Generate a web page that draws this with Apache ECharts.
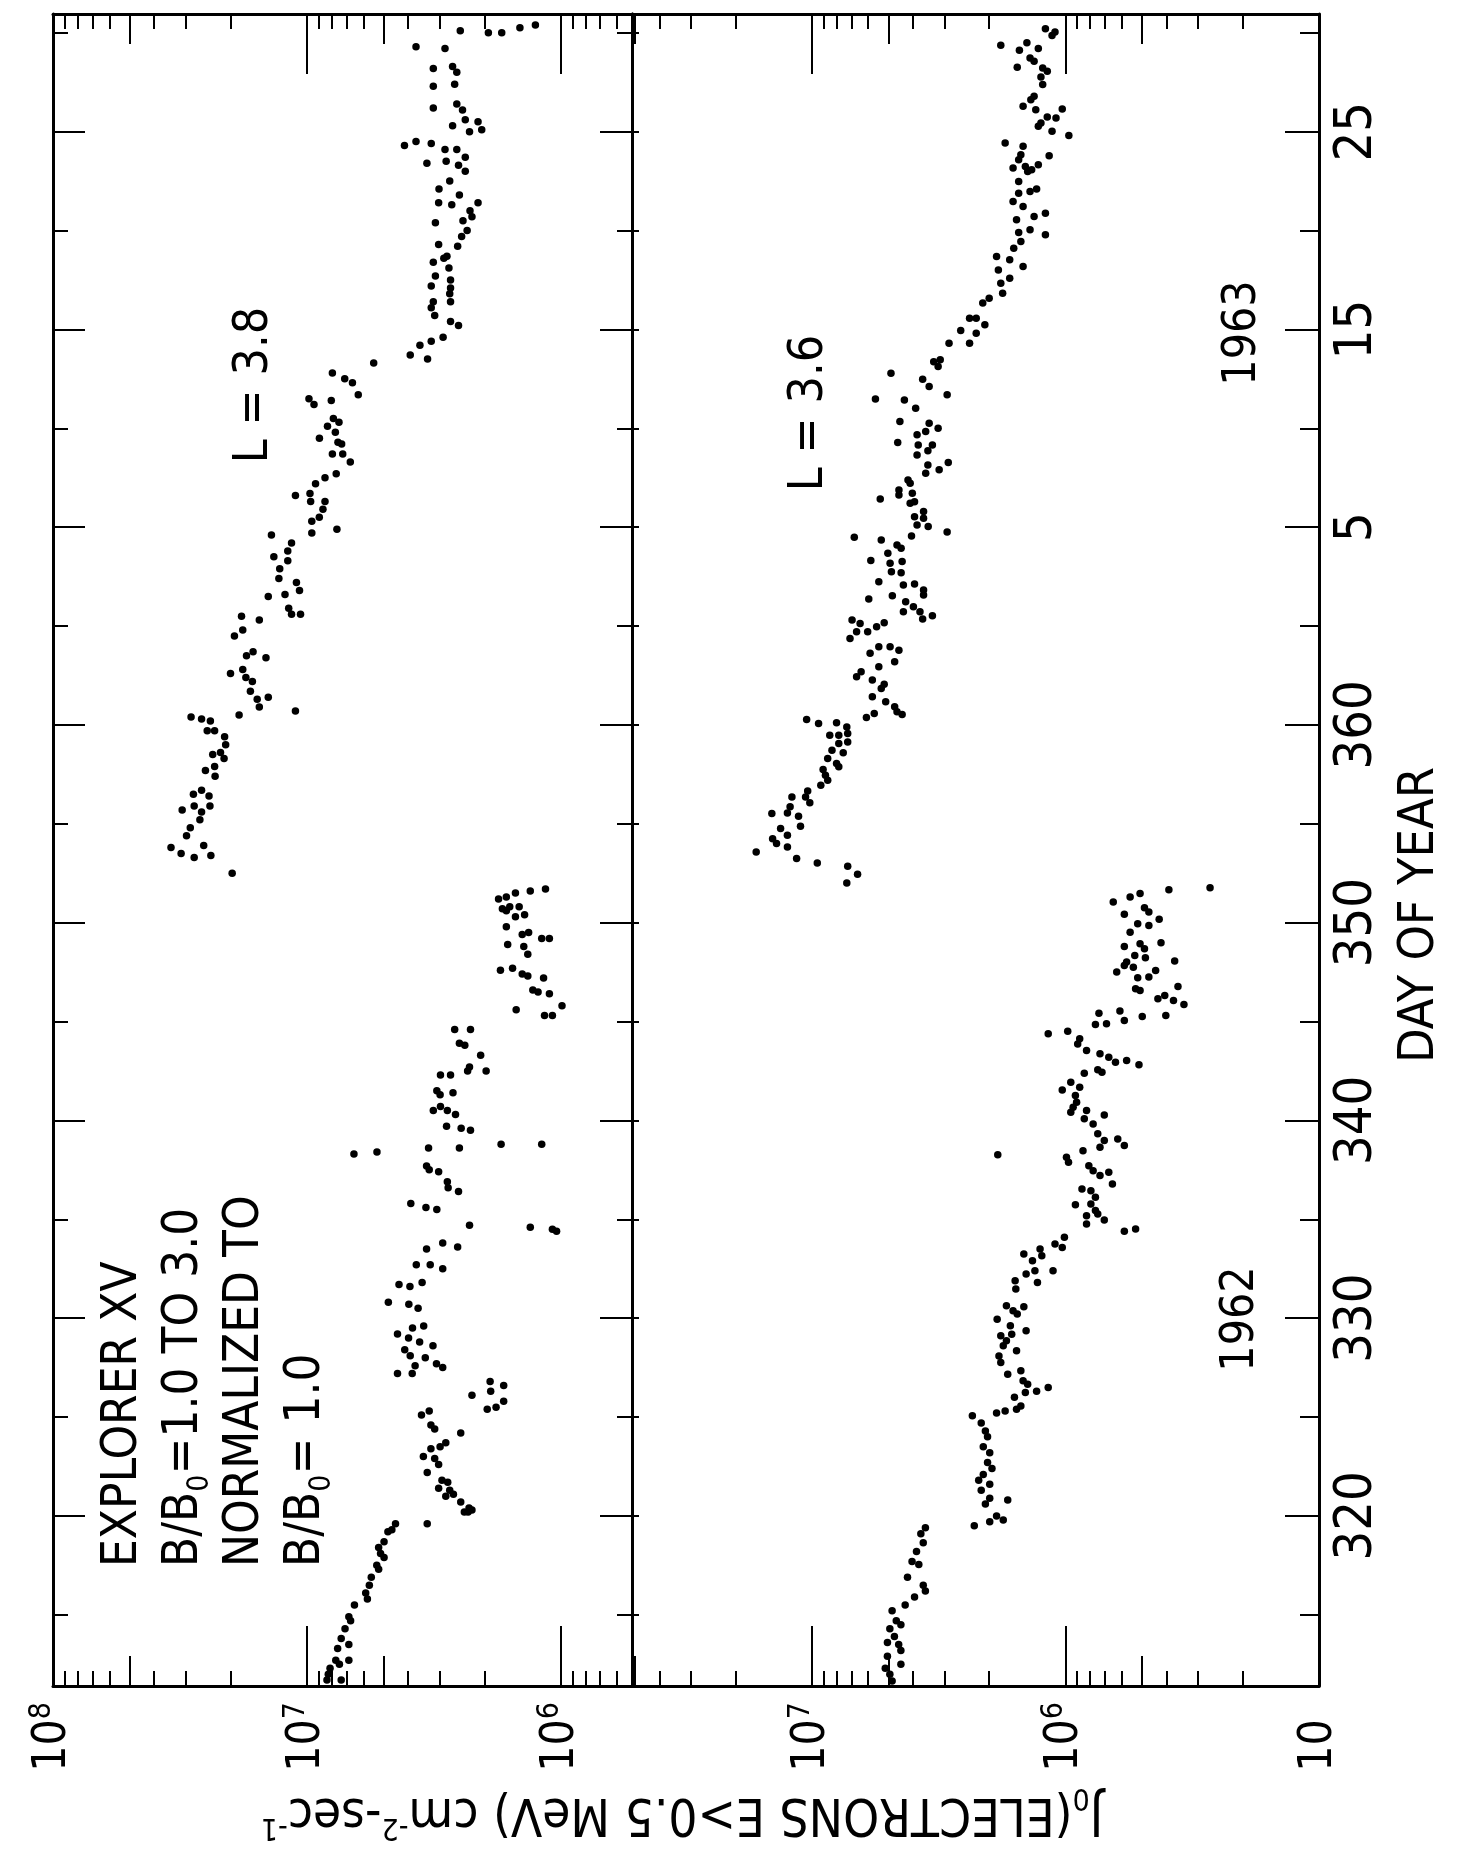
<!DOCTYPE html>
<html>
<head>
<meta charset="utf-8">
<script src="https://cdn.jsdelivr.net/npm/echarts@6/dist/echarts.min.js"></script>
<style>
html,body{margin:0;padding:0;background:#fff;}
#chart{width:1458px;height:1853px;}
</style>
</head>
<body>
<div id="chart"></div>
<script>
// points are [day of year, J0 in units of 10^6 cm^-2 sec^-1]; days past 365 are 1963
// L = 3.8 (left panel)
var l38a = [[311.7,8.34],[311.7,7.33],[312.0,8.24],[312.3,8.11],[312.5,7.45],[312.7,7.70],[312.7,6.84],[313.3,7.57],[313.5,6.84],[313.8,7.33],[314.3,7.08],[314.7,6.73],[314.9,6.84],[315.5,6.50],[315.8,5.78],[316.1,5.87],[316.5,5.68],[316.9,5.58],[317.3,5.22],[317.5,5.31],[317.9,4.97],[318.1,5.13],[318.4,5.22],[318.7,4.97],[319.2,4.80],[319.3,4.63],[319.6,4.48]];
var l38b = [[319.6,3.36],[320.2,2.32],[320.2,2.40],[320.3,2.24],[320.4,2.30],[320.7,2.48],[321.0,2.84],[321.1,2.65],[321.3,2.74],[321.4,3.03],[321.7,2.79],[321.8,2.94],[322.2,3.36],[322.6,3.03],[322.9,3.14],[323.0,3.48],[323.4,3.25],[323.5,2.99],[323.7,2.84],[324.2,2.48],[324.4,3.14],[324.6,3.25],[325.1,3.54],[325.3,3.30]];
var l38c = [[325.4,1.95],[325.5,1.80],[325.8,1.68],[326.1,2.24],[326.3,1.89],[326.6,1.68],[326.8,1.90]];
var l38d = [[327.2,4.40],[327.2,3.85],[327.5,2.92],[327.6,3.75],[327.7,3.09],[328.0,3.42],[328.1,3.92],[328.4,4.12],[328.6,3.19],[328.8,3.60],[329.0,3.98],[329.2,4.40],[329.5,3.84],[329.6,3.47],[330.5,3.65],[330.7,3.97],[330.8,4.78],[331.6,3.93],[331.7,4.34],[331.8,3.52],[332.5,2.92],[332.7,3.27],[332.7,3.71],[333.5,3.38],[333.6,2.55],[333.8,2.92],[334.7,2.29],[335.5,3.08],[335.6,3.40],[335.8,3.90],[336.4,2.53],[336.6,2.78],[336.9,2.80],[337.4,3.03],[337.5,3.30],[337.7,3.38],[338.6,3.32],[338.6,2.51],[339.5,2.27],[339.6,2.47],[339.7,2.82],[340.3,2.60],[340.5,2.80],[340.5,3.18],[340.7,2.98],[341.3,2.99],[341.4,2.66],[341.5,3.08],[342.3,2.98],[342.3,2.72],[342.5,1.97],[342.5,2.33],[342.7,2.29],[343.3,2.07],[343.8,2.39],[343.9,2.51],[344.6,2.27],[344.6,2.62]];
var l38x = [[338.3,6.53],[338.4,5.30],[338.8,1.72],[338.8,1.19],[334.6,1.32],[334.5,1.08],[334.4,1.04]];
var l38e = [[345.3,1.16],[345.3,1.08],[345.6,1.50],[345.8,0.99],[346.4,1.11],[346.5,1.23],[346.6,1.29],[347.2,1.17],[347.3,1.35],[347.4,1.42],[347.6,1.73],[347.7,1.55],[348.4,1.35],[348.8,1.40],[348.9,1.62],[349.2,1.11],[349.2,1.19],[349.4,1.42],[349.5,1.34],[349.8,1.64],[350.3,1.51],[350.4,1.39],[350.6,1.64],[350.7,1.70],[350.8,1.59],[350.8,1.46],[351.2,1.76],[351.3,1.64],[351.5,1.51],[351.6,1.32],[351.7,1.15]];
var l38f = [[352.5,19.7],[353.3,27.8],[353.4,23.9],[353.5,31.3],[353.8,34.3],[353.9,25.5],[354.4,29.8],[354.8,28.8],[355.2,26.4],[355.6,26.0],[355.7,31.0],[355.9,27.8],[355.9,24.1],[356.4,24.3],[356.5,28.0],[356.7,26.0],[357.4,23.0],[357.7,25.1],[357.9,23.1],[358.3,21.2],[358.5,23.5],[358.6,21.9],[359.0,20.9],[359.4,21.1],[359.7,23.1],[359.7,24.7],[360.2,24.0],[360.3,26.0],[360.4,28.6],[360.5,18.5],[360.7,11.1],[360.9,15.4],[361.3,15.7],[361.4,14.2],[361.7,16.7],[362.2,16.4],[362.4,17.4],[362.6,20.0],[362.8,17.9],[363.4,14.5],[363.5,17.3],[363.7,16.3],[364.5,19.3],[364.8,17.9],[365.3,15.4],[365.5,18.1],[365.6,10.6],[365.6,11.5],[365.9,11.8],[366.5,14.2],[366.6,12.2],[366.8,10.7],[367.2,11.0],[367.4,12.9],[367.9,12.8],[368.3,11.9],[368.5,13.5],[368.8,11.9],[369.2,11.5],[369.6,13.8],[369.7,9.57],[369.9,7.62],[370.3,9.57],[370.5,8.94],[370.9,8.65],[371.3,8.49],[371.3,9.67],[371.6,11.1],[371.7,9.73],[372.2,9.25],[372.5,8.49],[372.7,7.67],[373.3,6.75],[373.7,7.23],[373.7,7.94],[374.2,7.30],[374.3,7.55],[374.5,8.93],[374.8,7.73]];
var l38g = [[375.1,8.30],[375.3,7.48],[375.5,7.87],[376.2,9.38],[376.4,8.02],[376.5,9.82],[376.7,6.28],[377.3,6.62],[377.5,7.10],[377.8,7.94],[378.3,5.46],[378.5,3.35],[378.7,3.92],[379.2,3.59],[379.4,3.24],[379.6,2.91],[380.2,2.53],[380.4,2.72],[380.7,3.14],[381.1,3.24],[381.4,3.18],[381.4,2.72],[381.8,2.74],[382.1,2.72],[382.2,3.24],[382.5,2.72],[382.7,3.12],[383.1,2.76],[383.4,3.18],[383.6,2.89],[383.7,2.81],[384.2,2.55],[384.3,3.03],[384.7,2.46],[385.0,2.34],[385.4,3.12],[385.5,2.43],[385.7,2.24],[386.0,2.28],[386.3,2.69],[386.4,2.12],[386.4,3.03],[386.8,2.51],[387.1,3.02],[387.5,2.74],[388.0,2.38],[388.3,2.53],[388.4,3.37],[388.5,2.83],[388.7,2.38],[389.1,2.86],[389.1,2.57],[389.3,4.13],[389.4,3.24],[389.5,3.72],[390.0,2.29],[390.1,2.05],[390.3,2.67],[390.5,2.12],[390.6,2.38],[391.1,2.44],[391.2,3.18],[391.4,2.57],[392.3,3.18],[392.4,2.62],[393.0,2.57],[393.2,3.18],[393.3,2.67],[394.2,2.86],[394.3,3.72],[395.0,1.71],[395.0,1.93],[395.1,2.49],[395.25,1.45],[395.4,1.26]];

// L = 3.6 (right panel)
var r36a = [[311.65,4.83],[312.0,4.93],[312.3,5.14],[312.5,4.46],[312.9,5.04],[313.2,4.46],[313.5,4.55],[313.6,5.04],[313.9,4.73],[314.3,4.93],[314.5,4.46],[314.7,4.65],[315.2,4.83],[315.5,4.29],[315.9,3.94],[316.2,3.57],[316.5,3.64],[316.9,4.20],[317.55,3.79],[317.7,4.03],[318.2,3.87],[318.65,3.64],[319.1,3.72],[319.4,3.57]];
var r36b = [[319.5,2.29],[319.7,1.99],[319.8,1.76],[320.0,1.87],[320.6,2.07],[320.8,1.69],[320.9,1.99],[321.3,2.15],[321.6,1.99],[321.8,2.20],[322.1,2.11],[322.4,1.95],[322.7,2.03],[323.2,1.99],[323.5,2.11],[324.0,2.03],[324.3,2.07],[324.7,2.15],[325.06,2.33],[325.2,1.87],[325.3,1.73],[325.4,1.56],[325.56,1.50],[326.0,1.59],[326.24,1.44],[326.3,1.30],[326.5,1.17],[326.66,1.41],[326.83,1.47],[327.17,1.69],[327.34,1.50],[327.76,1.80],[328.09,1.83],[328.35,1.56],[328.6,1.76],[328.86,1.71],[329.11,1.80],[329.19,1.63],[329.36,1.43],[329.62,1.65],[329.95,1.86],[330.21,1.55],[330.38,1.61],[330.58,1.46],[330.63,1.71],[331.47,1.57],[331.81,1.29],[331.89,1.58],[332.23,1.43],[332.4,1.32],[332.4,1.12],[332.91,1.35],[333.16,1.24],[333.24,1.46],[333.5,1.26],[333.58,1.03],[333.75,1.10],[334.09,1.01]];
var r36c = [[334.39,0.586],[334.51,0.529],[334.76,0.826],[334.96,0.703],[335.18,0.826],[335.27,0.746],[335.44,0.762],[335.74,0.914],[335.77,0.794],[336.11,0.762],[336.45,0.794],[336.53,0.861],[336.79,0.653],[337.21,0.731],[337.38,0.675],[337.46,0.778],[337.71,0.809],[337.88,0.973],[338.14,0.991],[338.27,1.85],[338.47,0.853],[338.64,0.731],[338.73,0.586],[338.98,0.703],[339.06,0.622],[339.32,0.746],[339.82,0.778],[340.08,0.843],[340.28,0.703],[340.41,0.953],[340.5,0.826],[340.67,0.933],[340.92,0.904],[341.26,0.914],[341.54,1.03],[341.68,0.879],[341.93,0.953],[342.39,0.843],[342.44,0.718],[342.56,0.746],[342.81,0.513],[342.94,0.635],[343.03,0.574],[343.2,0.675],[343.37,0.731],[343.54,0.826],[343.87,0.895],[344.13,0.879],[344.38,1.17],[344.51,0.98],[344.85,0.762],[344.89,0.689],[345.05,0.586],[345.42,0.738],[345.53,0.610]];
var r36d = [[345.26,0.498],[345.31,0.402],[345.86,0.341],[346.07,0.375],[346.15,0.432],[346.32,0.406],[346.57,0.508],[346.66,0.529],[346.77,0.360],[347.21,0.519],[347.25,0.469],[347.5,0.628],[347.58,0.441],[347.75,0.540],[347.84,0.586],[348.01,0.574],[348.06,0.371],[348.23,0.484],[348.34,0.533],[348.68,0.488],[348.8,0.586],[348.93,0.508],[348.98,0.420],[349.52,0.556],[349.86,0.469],[349.95,0.519],[350.17,0.427],[350.42,0.586],[350.54,0.469],[350.76,0.488],[351.04,0.648],[351.3,0.556],[351.47,0.508],[351.67,0.391],[351.77,0.269]];
var r36e = [[352.01,7.29],[352.45,6.61],[352.85,7.23],[353.02,9.53],[353.24,11.5],[353.58,16.6],[353.83,12.5],[354.0,13.8],[354.25,14.3],[354.42,12.5],[354.76,13.3],[354.88,11.1],[355.38,11.3],[355.52,14.4],[355.55,12.5],[355.86,12.2],[356.06,10.2],[356.36,10.6],[356.36,12.0],[356.66,10.4],[356.95,9.23],[357.2,8.67],[357.46,8.85],[357.74,9.04],[357.88,7.84],[358.05,8.0],[358.3,8.67],[358.59,7.53],[358.72,8.34],[359.06,7.84],[359.14,7.23],[359.48,8.51],[359.48,7.84],[359.57,7.23],[359.9,7.29],[360.07,9.42],[360.11,8.0],[360.28,10.5],[360.38,6.10],[360.53,4.41],[360.58,5.68],[360.66,4.62],[360.92,4.72],[361.17,5.12],[361.42,5.78],[361.84,5.33],[362.06,5.19],[362.27,5.78],[362.44,6.67],[362.69,6.40],[362.94,5.45],[363.19,4.72],[363.62,5.90],[363.78,4.54],[363.95,4.92],[363.95,5.45],[364.37,7.08],[364.71,6.03],[364.71,6.67],[364.97,5.56],[365.13,6.46],[365.17,5.19],[365.3,6.95],[365.35,3.66],[365.52,3.35],[365.72,3.75],[365.72,4.36],[365.98,3.98],[366.23,4.27],[366.37,5.97],[366.53,4.82],[366.57,3.63],[366.82,3.63],[367.07,4.36],[367.12,3.94],[367.24,5.45],[367.7,4.45],[367.75,4.86],[368.17,4.92],[368.26,4.41],[368.31,5.86],[368.68,5.02],[368.93,4.45],[369.1,4.62],[369.35,5.33],[369.49,6.81],[369.55,4.05],[369.76,2.93],[370.03,3.48],[370.11,3.85],[370.45,3.63],[370.53,3.94],[370.79,3.63],[371.21,4.10],[371.29,3.94],[371.43,5.38],[371.63,4.54],[371.71,4.02],[371.88,4.54],[372.22,4.10],[372.39,4.18],[372.73,3.56],[372.9,3.15],[373.15,3.49],[373.27,2.90],[373.65,3.85],[373.87,3.49],[374.16,3.81],[374.16,3.35],[374.28,4.59],[374.67,3.85],[374.84,3.56]];
var r36f = [[375.0,3.18],[375.25,3.45],[375.34,4.50],[376.01,3.90],[376.43,4.32],[376.48,5.62],[376.69,2.93],[377.11,3.45],[377.48,3.66],[377.78,4.88],[378.12,3.18],[378.37,3.31],[378.46,3.12],[379.3,2.88],[379.94,2.59],[379.3,2.39],[379.81,2.25],[380.23,2.08],[380.57,2.25],[380.57,2.39],[381.33,2.12],[381.58,2.0],[381.83,1.77],[382.34,1.80],[382.59,1.66],[383.01,1.84],[383.18,1.47],[383.52,1.66],[383.69,1.87],[384.11,1.60],[384.45,1.50],[384.79,1.20],[384.9,1.53],[385.04,1.38],[385.54,1.56],[385.71,1.33],[385.88,1.20],[386.22,1.47],[386.47,1.61],[386.89,1.53],[386.98,1.38],[387.1,1.30],[387.48,1.53],[387.99,1.41],[388.08,1.36],[388.16,1.61],[388.24,1.44],[388.33,1.28],[388.58,1.53],[388.78,1.16],[388.83,1.50],[389.26,1.47],[389.43,1.73],[389.8,0.97],[390.02,1.13],[390.27,1.28],[390.44,1.25],[390.69,1.09],[390.74,1.18],[391.11,1.31],[391.15,1.03],[391.28,1.47],[391.62,1.37],[391.79,1.33],[392.38,1.23],[392.77,1.25],[393.05,1.18],[393.22,1.23],[393.26,1.55],[393.56,1.33],[393.73,1.38],[394.12,1.52],[394.2,1.28],[394.37,1.80],[394.49,1.42],[394.86,1.13],[395.04,1.10],[395.2,1.20]];

// axis ticks / labels
var decades = [5, 6, 7];
var minorMult = [2, 3, 4, 6, 7, 8, 9];
var majorExp = [5, 6, 7, 8];
var tenDays = [320, 330, 340, 350, 360, 370, 380, 390];
var fiveDays = [315, 325, 335, 345, 355, 365, 375, 385, 395];

var FONT = "'DejaVu Sans Condensed', 'DejaVu Sans', sans-serif";
var fiveLog = decades.map(function (d) { return d + Math.log10(5); });
var minorLog = [];
decades.forEach(function (d) {
	minorMult.forEach(function (m) { minorLog.push(d + Math.log10(m)); });
});

var ranges = [[5.72, 8.0], [5.0, 7.71]];
var grids = [
	{left: 53, top: 14, width: 579, height: 1672},
	{left: 632, top: 14, width: 687, height: 1672}
];
var labelsFor = [[6, 7, 8], [5, 6, 7]];

var xAxes = [], yAxes = [];
ranges.forEach(function (r, g) {
	['bottom', 'top'].forEach(function (pos) {
		[[majorExp, 60], [fiveLog, 30], [minorLog, 15]].forEach(function (t, k) {
			xAxes.push({
				type: 'value', gridIndex: g, position: pos, min: r[0], max: r[1], inverse: true,
				axisLine: {show: k === 0, onZero: false, lineStyle: {color: '#000', width: 3}},
				axisTick: {show: true, inside: true, length: t[1], customValues: t[0], lineStyle: {color: '#000', width: 2}},
				axisLabel: {
					show: pos === 'bottom' && k === 0,
					customValues: labelsFor[g], rotate: 90, margin: 16,
					formatter: function (v) {
						return v === 5 ? '{b|10}{h|5}' : '{b|10}{s|' + v + '}';
					},
					rich: {
						b: {fontSize: 46, fontFamily: FONT, color: '#000', lineHeight: 52},
						s: {fontSize: 30, fontFamily: FONT, color: '#000', verticalAlign: 'top'},
						h: {fontSize: 30, fontFamily: FONT, color: 'rgba(0,0,0,0)', verticalAlign: 'top'}
					}
				},
				splitLine: {show: false}
			});
		});
	});
	// day axes: left long/short, right long/short
	var lens = g === 0 ? [32, 15, 32, 15] : [7, 7, 34, 19];
	[['left', tenDays], ['left', fiveDays], ['right', tenDays], ['right', fiveDays]].forEach(function (a, k) {
		yAxes.push({
			type: 'value', gridIndex: g, position: a[0], min: 311.4, max: 395.95,
			axisLine: {show: k === 0 || k === 2, onZero: false, lineStyle: {color: '#000', width: 3}},
			axisTick: {show: true, inside: true, length: lens[k], customValues: a[1], lineStyle: {color: '#000', width: 2}},
			axisLabel: {
				show: g === 1 && k === 2,
				customValues: tenDays, rotate: 90, margin: 12,
				formatter: function (v) { return String(v > 365 ? v - 365 : v); },
				fontSize: 52, fontFamily: FONT, color: '#000'
			},
			splitLine: {show: false}
		});
	});
});

function pts(arr) {
	return arr.map(function (p) { return [Math.log10(p[1] * 1e6), p[0]]; });
}
function dots(arr, g) {
	return {
		type: 'scatter', xAxisIndex: g * 6, yAxisIndex: g * 4,
		data: pts(arr), symbolSize: 7.5, itemStyle: {color: '#000', opacity: 1}, silent: true
	};
}

var series = [];
[l38a, l38b, l38c, l38d, l38x, l38e, l38f, l38g].forEach(function (s) { series.push(dots(s, 0)); });
[r36a, r36b, r36c, r36d, r36e, r36f].forEach(function (s) { series.push(dots(s, 1)); });

function vtext(x, y, txt, size) {
	return {
		type: 'text', x: x, y: y, rotation: Math.PI / 2,
		style: {text: txt, font: size + 'px ' + FONT, fill: '#000', align: 'center', verticalAlign: 'middle', textAlign: 'center', textVerticalAlign: 'middle'}
	};
}

var graphics = [
	vtext(255, 385, 'L = 3.8', 48),
	vtext(810, 413, 'L = 3.6', 48),
	vtext(1243, 333, '1963', 46),
	vtext(1241, 1319, '1962', 46),
	vtext(1420, 915, 'DAY OF YEAR', 50),
	{
		type: 'text', x: 93, y: 1567, rotation: Math.PI / 2,
		style: {
			text: '{n|EXPLORER XV}\n{n|B/B}{sub|0}{n|=1.0 TO 3.0}\n{n|NORMALIZED TO}\n{n|B/B}{sub|0}{n|= 1.0}',
			fill: '#000', align: 'left', verticalAlign: 'top', textAlign: 'left', textVerticalAlign: 'top',
			rich: {
				n: {fontSize: 49, fontFamily: FONT, lineHeight: 61, fill: '#000'},
				sub: {fontSize: 30, fontFamily: FONT, verticalAlign: 'bottom', fill: '#000'}
			}
		}
	},
	{
		type: 'text', x: 682, y: 1812, rotation: Math.PI,
		style: {
			text: '{n|J}{sub|0}{n|(ELECTRONS E>0.5 MeV) cm}{sup|-2}{n|-sec}{sup|-1}',
			fill: '#000', align: 'center', verticalAlign: 'middle', textAlign: 'center', textVerticalAlign: 'middle',
			rich: {
				n: {fontSize: 51, fontFamily: FONT, lineHeight: 60, fill: '#000'},
				sub: {fontSize: 30, fontFamily: FONT, verticalAlign: 'bottom', fill: '#000'},
				sup: {fontSize: 30, fontFamily: FONT, verticalAlign: 'top', fill: '#000'}
			}
		}
	}
];

var chart = echarts.init(document.getElementById('chart'), null, {renderer: 'canvas'});
chart.setOption({
	backgroundColor: '#fff',
	animation: false,
	grid: grids,
	xAxis: xAxes,
	yAxis: yAxes,
	series: series,
	graphic: {elements: graphics}
});
</script>
</body>
</html>
